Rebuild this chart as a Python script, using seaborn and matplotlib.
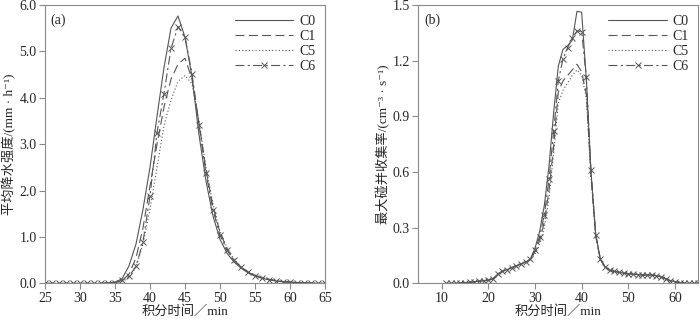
"""
Rainfall intensity and max collision-coalescence rate vs integration time
for four cases (C0, C1, C5, C6).
"""

import numpy as np
import pandas as pd
import matplotlib
matplotlib.use('Agg')
import matplotlib.pyplot as plt
import seaborn as sns

# ---- panel (a): mean rain intensity, mm/h, every minute 25..65
time_a = list(range(25, 66))
rain_c0 = [0.0] * 9 + [0.01, 0.03, 0.1, 0.38, 0.85, 1.6, 2.5, 3.6, 4.65, 5.5, 5.76,
                       5.3, 4.45, 3.2, 2.2, 1.45, 0.95, 0.65, 0.46, 0.33, 0.23, 0.16,
                       0.11, 0.08, 0.05, 0.035, 0.025, 0.015, 0.01, 0.005, 0.0, 0.0]
rain_c1 = [0.0] * 9 + [0.01, 0.02, 0.06, 0.2, 0.55, 1.2, 2.1, 3.0, 3.8, 4.4, 4.72,
                       4.85, 4.4, 3.45, 2.45, 1.65, 1.1, 0.75, 0.5, 0.35, 0.25, 0.17,
                       0.12, 0.09, 0.06, 0.04, 0.03, 0.02, 0.01, 0.005, 0.0, 0.0]
rain_c5 = [0.0] * 9 + [0.005, 0.015, 0.04, 0.12, 0.35, 0.85, 1.6, 2.5, 3.4, 3.95, 4.35,
                       4.48, 4.3, 3.5, 2.5, 1.7, 1.12, 0.77, 0.52, 0.36, 0.25, 0.18,
                       0.13, 0.09, 0.06, 0.04, 0.03, 0.02, 0.01, 0.005, 0.0, 0.0]
rain_c6 = [0.0] * 9 + [0.01, 0.02, 0.07, 0.15, 0.37, 0.9, 1.88, 3.25, 4.09, 5.06, 5.53,
                       5.3, 4.52, 3.41, 2.37, 1.58, 1.04, 0.72, 0.5, 0.35, 0.24, 0.17,
                       0.12, 0.08, 0.06, 0.04, 0.03, 0.02, 0.01, 0.005, 0.0, 0.0]

# ---- panel (b): max collision-coalescence rate, cm^-3 s^-1, every minute 11..65
time_b = list(range(11, 66))
base_rise = [0.0, 0.0, 0.0, 0.002, 0.004, 0.006, 0.009, 0.012, 0.015, 0.018,
             0.025, 0.05, 0.065, 0.075, 0.085, 0.095, 0.105, 0.115, 0.13]   # 11..29
base_tail = [0.09, 0.07, 0.065, 0.06, 0.055, 0.052, 0.05, 0.048, 0.046, 0.045,
             0.045, 0.042, 0.035, 0.025, 0.015, 0.01, 0.005, 0.002, 0.0, 0.0, 0.0]  # 45..65
coll_c0 = base_rise + [0.19, 0.28, 0.42, 0.63, 0.92, 1.17, 1.26, 1.28, 1.31, 1.465,
                       1.46, 1.1, 0.6, 0.27, 0.13] + base_tail
coll_c1 = base_rise + [0.17, 0.23, 0.33, 0.5, 0.74, 1.03, 1.09, 1.12, 1.15, 1.18,
                       1.14, 1.02, 0.58, 0.26, 0.13] + base_tail
coll_c5 = base_rise + [0.16, 0.21, 0.3, 0.46, 0.7, 0.97, 1.04, 1.08, 1.12, 1.15,
                       1.12, 1.0, 0.57, 0.26, 0.13] + base_tail
coll_c6 = base_rise + [0.18, 0.25, 0.37, 0.56, 0.82, 1.09, 1.21, 1.27, 1.32, 1.36,
                       1.355, 1.11, 0.61, 0.26, 0.13] + base_tail

cases = ['C0', 'C1', 'C5', 'C6']
LINE = '#555555'
FRAME = '#8a8a8a'

line_styles = {
    'C0': dict(linestyle='-'),
    'C1': dict(dashes=(8, 4)),
    'C5': dict(dashes=(1, 2)),
    'C6': dict(dashes=(8, 3, 2, 3), marker='x', markersize=4,
               markeredgewidth=0.7, markeredgecolor=LINE),
}

sns.set_style('ticks')
plt.rcParams['font.family'] = ['Liberation Serif', 'Noto Sans CJK SC', 'DejaVu Sans']
plt.rcParams['axes.unicode_minus'] = False


def draw_panel(ax, t, series, xlim, ylim, yticks, xticks, ylabel, tag):
    for name, vals in zip(cases, series):
        sns.lineplot(x=t, y=vals, ax=ax, color=LINE, linewidth=0.8, label=name,
                     **line_styles[name])
    ax.set_xlim(*xlim)
    ax.set_ylim(*ylim)
    ax.set_xticks(xticks)
    ax.set_yticks(yticks)
    ax.set_yticklabels([f'{v:.1f}' for v in yticks])
    ax.tick_params(labelsize=10, color=FRAME, length=4, width=0.8,
                   direction='out', pad=2)
    for s in ax.spines.values():
        s.set_visible(True)
        s.set_color(FRAME)
        s.set_linewidth(0.8)
    ax.set_xlabel('积分时间／min', fontsize=9.5, labelpad=0)
    ax.set_ylabel(ylabel, fontsize=9.5, labelpad=2)
    ax.text(0.02, 0.97, tag, transform=ax.transAxes, fontsize=10, va='top', ha='left')
    ax.legend(loc='upper right', frameon=False, fontsize=10, handlelength=4.2,
              handletextpad=0.4, labelspacing=0.15, borderaxespad=0.3)


fig = plt.figure(figsize=(7.0, 3.21), dpi=100)
ax_a = fig.add_axes([0.0643, 0.117, 0.400, 0.868])
ax_b = fig.add_axes([0.5976, 0.117, 0.400, 0.868])

draw_panel(ax_a, time_a, [rain_c0, rain_c1, rain_c5, rain_c6],
           (25, 65), (0, 6), [0, 1, 2, 3, 4, 5, 6], list(range(25, 66, 5)),
           '平均降水强度/(mm · h⁻¹)', '(a)')
draw_panel(ax_b, time_b, [coll_c0, coll_c1, coll_c5, coll_c6],
           (5, 65), (0, 1.5), [0.0, 0.3, 0.6, 0.9, 1.2, 1.5], [10, 20, 30, 40, 50, 60],
           '最大碰并收集率/(cm⁻³ · s⁻¹)', '(b)')

fig.savefig('out.png', dpi=100)
plt.close(fig)
